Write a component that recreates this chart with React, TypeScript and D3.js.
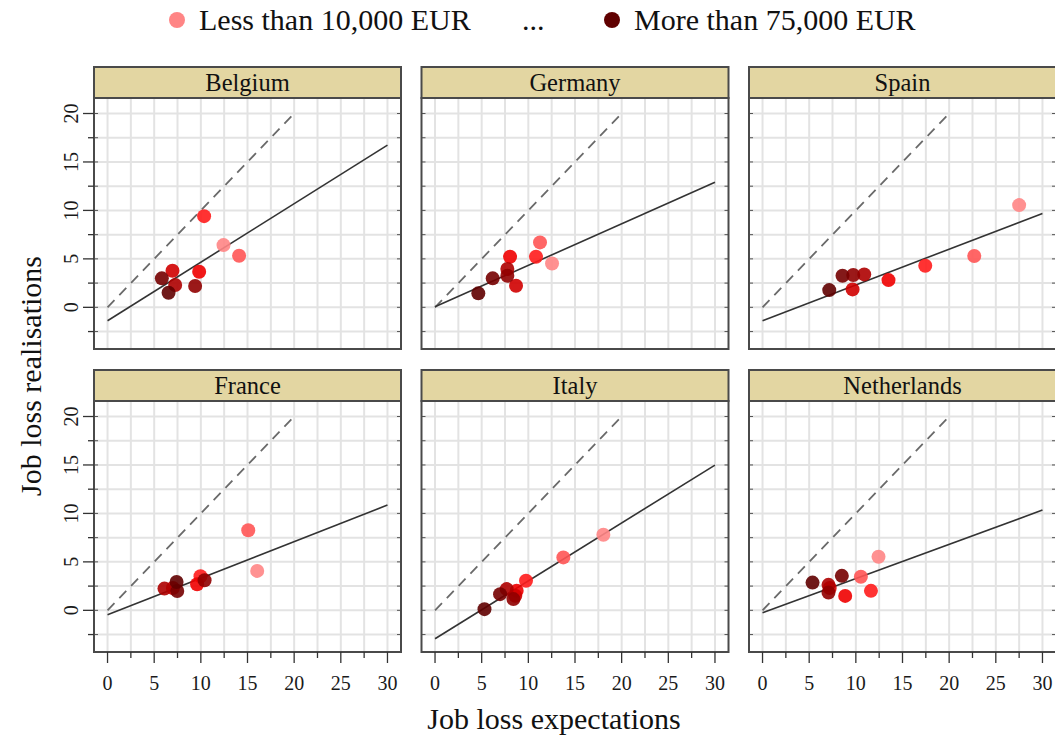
import React from 'react';
import * as d3 from 'd3';

const width = 1055;
const height = 736;

// panel layout (lattice style, 3 columns x 2 rows)
const colLeft = [94, 421.5, 749];
const stripTop = [67, 370];
const panelWidth = 307;
const stripHeight = 31;
const plotHeight = 251;

const countries = ['Belgium', 'Germany', 'Spain', 'France', 'Italy', 'Netherlands'];

// income groups, lowest to highest
const incomeGroups = [
  'Less than 10,000 EUR',
  '10,000-15,000 EUR',
  '15,000-20,000 EUR',
  '20,000-25,000 EUR',
  '25,000-30,000 EUR',
  '30,000-40,000 EUR',
  '40,000-50,000 EUR',
  '50,000-75,000 EUR',
  'More than 75,000 EUR',
];
const groupColors = ['#ff8585', '#ff5555', '#ff1c1c', '#f00000', '#d00000', '#ae0000', '#900000', '#760000', '#600000'];

// job loss expectations (x) and realisations (y), one value per income group
const expectations = [
  [12.43, 14.1, 10.35, 9.82, 6.96, 7.25, 9.39, 5.82, 6.54],
  [12.54, 11.25, 10.82, 8.04, 8.68, 7.75, 7.75, 6.18, 4.64],
  [27.5, 22.69, 17.44, 13.5, 9.65, 10.9, 9.72, 8.57, 7.15],
  [16.04, 15.08, 9.96, 9.6, 7.0, 6.1, 10.4, 7.47, 7.4],
  [18.04, 13.75, 9.75, 8.75, 8.6, 7.68, 8.4, 6.97, 5.3],
  [12.43, 10.54, 11.62, 8.86, 7.2, 7.07, 7.07, 8.5, 5.36],
];
const realisations = [
  [6.42, 5.32, 9.41, 3.67, 3.77, 2.3, 2.2, 2.99, 1.51],
  [4.53, 6.7, 5.22, 5.22, 2.23, 3.95, 3.26, 2.99, 1.44],
  [10.55, 5.29, 4.29, 2.81, 1.85, 3.4, 3.33, 3.26, 1.78],
  [4.07, 8.27, 3.52, 2.69, 2.3, 2.24, 3.1, 2.0, 2.93],
  [7.8, 5.46, 3.05, 2.02, 1.5, 2.19, 1.16, 1.67, 0.12],
  [5.53, 3.46, 2.01, 1.49, 2.3, 2.63, 1.83, 3.56, 2.86],
];

// fitted line values at x = 0 and x = 30
const fitAt0 = [-1.38, 0.05, -1.38, -0.45, -2.93, -0.24];
const fitAt30 = [16.73, 12.9, 9.69, 10.86, 14.99, 10.34];

const xTicks = [0, 5, 10, 15, 20, 25, 30];
const yTicks = [0, 5, 10, 15, 20];
const gridX = d3.range(0, 30.01, 2.5);
const gridY = d3.range(-2.5, 20.01, 2.5);

const font = '"Liberation Serif", "Times New Roman", serif';

const xScale = d3.scaleLinear().domain([-1.45, 31.45]).range([0, panelWidth]);
const yScale = d3.scaleLinear().domain([-4.3, 21.6]).range([plotHeight, 0]);

const Panel = ({ i }: { i: number }) => {
  const col = i % 3;
  const row = Math.floor(i / 3);
  const x0 = colLeft[col];
  const sTop = stripTop[row];
  const pTop = sTop + stripHeight;
  const lineGen = d3
    .line<[number, number]>()
    .x(d => xScale(d[0]))
    .y(d => yScale(d[1]));
  const pts = expectations[i].map((e, k) => ({ e, r: realisations[i][k], k }));

  return (
    <g>
      <g transform={`translate(${x0},${pTop})`}>
        <rect width={panelWidth} height={plotHeight} fill="white" />
        {gridX.map(v => (
          <line key={'gx' + v} x1={xScale(v)} x2={xScale(v)} y1={0} y2={plotHeight} stroke="#e3e3e3" strokeWidth={2} />
        ))}
        {gridY.map(v => (
          <line key={'gy' + v} x1={0} x2={panelWidth} y1={yScale(v)} y2={yScale(v)} stroke="#e3e3e3" strokeWidth={2} />
        ))}
        {/* inner ticks on the sides */}
        {gridY.map(v => (
          <g key={'it' + v}>
            <line x1={0} x2={4} y1={yScale(v)} y2={yScale(v)} stroke="#555" strokeWidth={1} />
            <line x1={panelWidth - 4} x2={panelWidth} y1={yScale(v)} y2={yScale(v)} stroke="#555" strokeWidth={1} />
          </g>
        ))}
        <path
          d={lineGen([[0, 0], [20, 20]]) || ''}
          fill="none"
          stroke="#6a6a6a"
          strokeWidth={1.8}
          strokeDasharray="10,7"
        />
        <path
          d={lineGen([[0, fitAt0[i]], [30, fitAt30[i]]]) || ''}
          fill="none"
          stroke="#333"
          strokeWidth={1.6}
        />
        {pts.map(p => (
          <circle
            key={p.k}
            cx={xScale(p.e)}
            cy={yScale(p.r)}
            r={7}
            fill={groupColors[p.k]}
            fillOpacity={0.9}
          />
        ))}
        <rect width={panelWidth} height={plotHeight} fill="none" stroke="#4a4a4a" strokeWidth={2} />

        {col === 0 &&
          gridY.map(v => (
            <line
              key={'yt' + v}
              x1={v % 5 === 0 ? -11 : -6}
              x2={0}
              y1={yScale(v)}
              y2={yScale(v)}
              stroke="#333"
              strokeWidth={1.3}
            />
          ))}
        {col === 0 &&
          yTicks.map(v => (
            <text
              key={'yl' + v}
              transform={`translate(-16,${yScale(v)}) rotate(-90)`}
              textAnchor="middle"
              fontFamily={font}
              fontSize={20}
              fill="#1a1a1a"
            >
              {v}
            </text>
          ))}

        {row === 1 &&
          gridX.map(v => (
            <line
              key={'xt' + v}
              x1={xScale(v)}
              x2={xScale(v)}
              y1={plotHeight}
              y2={plotHeight + (v % 5 === 0 ? 11 : 6)}
              stroke="#333"
              strokeWidth={1.3}
            />
          ))}
        {row === 1 &&
          xTicks.map(v => (
            <text
              key={'xl' + v}
              x={xScale(v)}
              y={plotHeight + 38}
              textAnchor="middle"
              fontFamily={font}
              fontSize={20}
              fill="#1a1a1a"
            >
              {v}
            </text>
          ))}
      </g>

      <rect
        x={x0}
        y={sTop}
        width={panelWidth}
        height={stripHeight}
        fill="#e3d6a2"
        stroke="#4a4a4a"
        strokeWidth={2}
      />
      <text
        x={x0 + panelWidth / 2}
        y={sTop + 24}
        textAnchor="middle"
        fontFamily={font}
        fontSize={24.5}
        fill="#111"
      >
        {countries[i]}
      </text>
    </g>
  );
};

export default function App() {
  return (
    <svg
      width={width}
      height={height}
      style={{ position: 'absolute', left: 0, top: 0, display: 'block', background: 'white' }}
    >
      {/* legend */}
      <circle cx={177} cy={20} r={8} fill={groupColors[0]} />
      <text x={199} y={30} fontFamily={font} fontSize={30} fill="#111">
        {incomeGroups[0]}
      </text>
      <text x={522} y={30} fontFamily={font} fontSize={30} fill="#111">
        ...
      </text>
      <circle cx={612} cy={20} r={8} fill={groupColors[groupColors.length - 1]} />
      <text x={634} y={30} fontFamily={font} fontSize={30} fill="#111">
        {incomeGroups[incomeGroups.length - 1]}
      </text>

      {countries.map((c, i) => (
        <Panel key={c} i={i} />
      ))}

      <text x={554} y={729} textAnchor="middle" fontFamily={font} fontSize={30} fill="#111">
        Job loss expectations
      </text>
      <text
        transform={`translate(41,376) rotate(-90)`}
        textAnchor="middle"
        fontFamily={font}
        fontSize={30}
        fill="#111"
      >
        Job loss realisations
      </text>
    </svg>
  );
}
